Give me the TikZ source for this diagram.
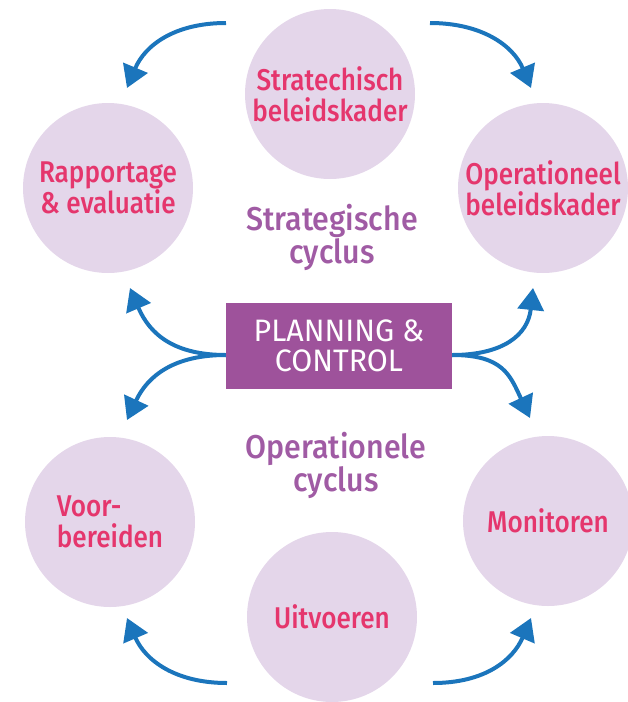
\documentclass[tikz,border=0pt]{standalone}
\usepackage{fontspec}
\usetikzlibrary{arrows.meta}
\newfontfamily\labfont[FakeStretch=0.87]{Fira Sans Medium}
\newfontfamily\cycfont[FakeStretch=0.92]{Fira Sans Medium}
\newfontfamily\pcfont[FakeStretch=0.98]{Fira Sans}
\definecolor{circfill}{HTML}{E4D6EA}
\definecolor{pinktext}{HTML}{E5366D}
\definecolor{purpletext}{HTML}{A05BA4}
\definecolor{rectfill}{HTML}{9E529B}
\definecolor{arrowblue}{HTML}{1B75BC}
\begin{document}
\begin{tikzpicture}[x=1pt,y=-1pt,
  bubble/.style={circle, fill=circfill, minimum size=170pt, inner sep=0pt,
    text=pinktext, font=\labfont\fontsize{30}{31}\selectfont, align=center},
  cyclabel/.style={text=purpletext, font=\cycfont\fontsize{33}{30}\selectfont, align=center},
  flow/.style={draw=arrowblue, line width=4pt, -{Triangle[width=26pt,length=22pt]}}]
\useasboundingbox (0,0) rectangle (628,702);
\node[bubble] (sb) at (330,94) {Stratechisch\\beleidskader};
\node[bubble] (re) at (108,188) {Rapportage\\\& evaluatie};
\node[bubble] (ob) at (543,188) {Operationeel\\beleidskader};
\node[bubble, align=left] (vb) at (110,522) {Voor-\\bereiden};
\node[bubble] (mo) at (548,521) {Monitoren};
\node[bubble] (ui) at (332,617) {Uitvoeren};
\node[cyclabel] (sc) at (332,237) {Strategische\\cyclus};
\node[cyclabel] (oc) at (336,465) {Operationele\\cyclus};
\node[fill=rectfill, minimum width=226pt, minimum height=86pt, text=white,
  font=\pcfont\fontsize{31}{30}\selectfont, align=center] (pc) at (339,346) {PLANNING \&\\CONTROL};
\coordinate (tls) at (226,23);
\coordinate (tle) at (127,88);
\coordinate (trs) at (430,23);
\coordinate (tre) at (531,88);
\coordinate (bls) at (227,683);
\coordinate (ble) at (127,618);
\coordinate (brs) at (433,683);
\coordinate (bre) at (531,618);
\coordinate (ml) at ([yshift=-9pt]pc.west);
\coordinate (mr) at ([yshift=-9pt]pc.east);
\coordinate (mul) at (130,288);
\coordinate (mll) at (127,420);
\coordinate (mur) at (533,288);
\coordinate (mlr) at (530,418);
\draw[flow] (tls) .. controls (175,23) and (145,45) .. (tle);
\draw[flow] (trs) .. controls (481,23) and (513,45) .. (tre);
\draw[flow] (bls) .. controls (175,683) and (145,660) .. (ble);
\draw[flow] (brs) .. controls (485,683) and (513,660) .. (bre);
\draw[flow] (ml) .. controls (175,355) and (150,335) .. (mul);
\draw[flow] (ml) .. controls (175,355) and (148,375) .. (mll);
\draw[flow] (mr) .. controls (503,355) and (528,335) .. (mur);
\draw[flow] (mr) .. controls (503,355) and (510,375) .. (mlr);
\end{tikzpicture}
\end{document}
